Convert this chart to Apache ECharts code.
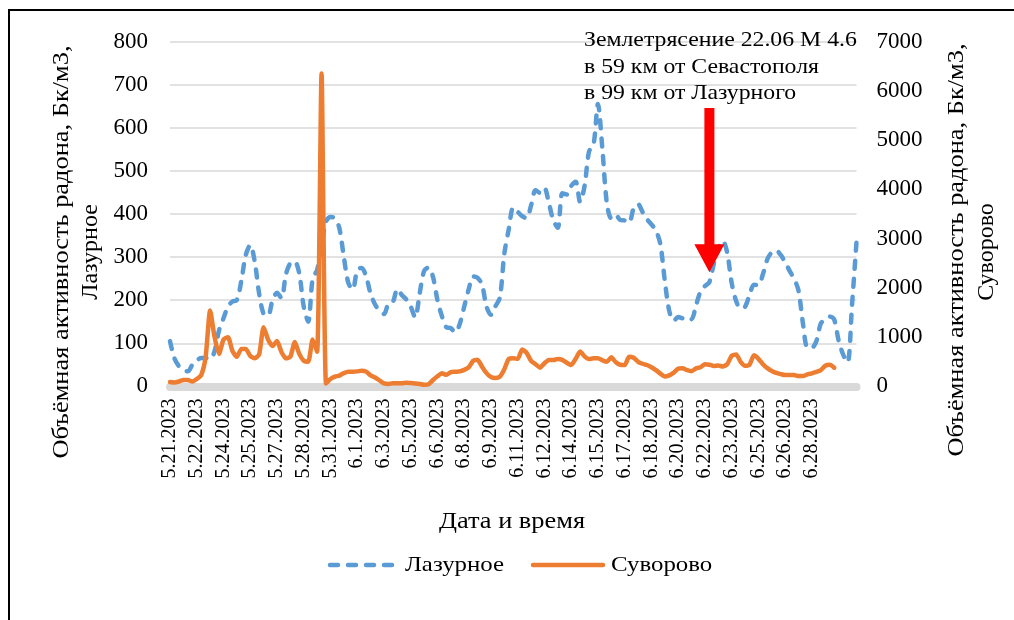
<!DOCTYPE html>
<html>
<head>
<meta charset="utf-8">
<script src="https://cdn.jsdelivr.net/npm/echarts@6/dist/echarts.min.js"></script>
<style>
  html, body { margin: 0; padding: 0; background: #ffffff; }
  #chart { width: 1014px; height: 620px; }
</style>
</head>
<body>
<div id="chart"></div>
<script>
// Dates shown on the category axis (one every 6 readings)
const tickDates = [
  '5.21.2023', '5.22.2023', '5.24.2023', '5.25.2023', '5.27.2023', '5.28.2023',
  '5.31.2023', '6.1.2023', '6.3.2023', '6.5.2023', '6.6.2023', '6.8.2023',
  '6.9.2023', '6.11.2023', '6.12.2023', '6.14.2023', '6.15.2023', '6.17.2023',
  '6.18.2023', '6.20.2023', '6.22.2023', '6.23.2023', '6.25.2023', '6.26.2023',
  '6.28.2023', '6.29.2023'
];
const readingsPerTick = 6;
const lastLabelledIndex = 144;

// Radon volumetric activity, Lazurnoye (left axis, Bq/m3)
const lazurnoye = [
  105, 65, 47, 38, 35, 50, 60, 66, 66, 63,
  82, 130, 158, 185, 197, 200, 245, 305, 328, 290,
  215, 168, 165, 200, 217, 205, 260, 286, 289, 262,
  185, 150, 250, 270, 328, 382, 393, 390, 367, 300,
  240, 225, 270, 275, 255, 215, 190, 176, 168, 192,
  196, 226, 212, 202, 185, 160, 215, 268, 276, 254,
  200, 163, 137, 135, 125, 145, 185, 225, 255, 252,
  236, 185, 166, 186, 206, 308, 365, 415, 405, 395,
  390, 420, 455, 449, 460, 425, 385, 368, 448, 445,
  465, 475, 428, 465, 545, 560, 655, 550, 425, 390,
  398, 386, 385, 380, 413, 423, 405, 388, 376, 362,
  330, 245, 175, 152, 161, 158, 161, 156, 188, 220,
  233, 242, 285, 320, 338, 310, 240, 198, 181, 185,
  212, 236, 235, 260, 295, 311, 315, 305, 288, 268,
  250, 222, 145, 90, 90, 105, 146, 155, 162, 155,
  106, 74, 56, 190, 335
];

// Radon volumetric activity, Suvorovo (right axis, Bq/m3)
const suvorovo = [
  90, 80, 100, 130, 130, 100, 150, 230, 600, 1540,
  1000, 660, 950, 1000, 720, 600, 760, 760, 620, 570,
  650, 1200, 950, 820, 920, 700, 570, 603, 900, 660,
  520, 500, 950, 704, 6350, 60, 150, 197, 220, 270,
  298, 298, 305, 319, 300, 225, 180, 120, 60, 50,
  63, 63, 65, 75, 68, 60, 50, 35, 45, 130,
  205, 266, 235, 290, 298, 305, 335, 385, 520, 540,
  400, 270, 190, 170, 200, 350, 560, 570, 560, 750,
  680, 520, 450, 380, 470, 536, 536, 555, 540, 480,
  434, 560, 710, 610, 555, 570, 570, 530, 501, 590,
  490, 440, 434, 600, 580, 500, 460, 434, 390, 330,
  260, 200, 225, 280, 360, 367, 330, 310, 367, 390,
  450, 440, 415, 425, 405, 450, 620, 650, 500, 420,
  440, 630, 560, 450, 370, 315, 275, 250, 231, 231,
  231, 210, 210, 245, 266, 295, 330, 420, 440, 380,
  null, null, null, null, null
];

// Series names and axis titles
const seriesNames = ['Лазурное', 'Суворово'];
const leftTitle = ['Объёмная активность радона, Бк/м3,', 'Лазурное'];
const rightTitle = ['Объёмная активность радона, Бк/м3,', 'Суворово'];
const xTitle = 'Дата и время';
const quakeNote = ['Землетрясение 22.06 М 4.6', 'в 59 км от Севастополя', 'в 99 км от Лазурного'];

// Earthquake marker: reading index and the left-axis span of the arrow
const quakeIndex = 121;
const quakeArrowTop = 646;
const quakeArrowTip = 265;

const categories = lazurnoye.map((_, i) => {
  const day = tickDates[Math.floor(i / readingsPerTick)];
  const hour = (i % readingsPerTick) * 4;
  return day + ' ' + String(hour).padStart(2, '0') + ':00';
});

const serif = '"Liberation Serif", "DejaVu Serif", serif';
const BLUE = '#5b9bd5';
const ORANGE = '#ed7d31';
const GRID_GRAY = '#d9d9d9';
const BLUE_DASH = [8, 10];

const chart = echarts.init(document.getElementById('chart'), null, { renderer: 'canvas' });

const option = {
  backgroundColor: '#ffffff',
  animation: false,
  grid: { left: 170, right: 157.5, top: 41.6, bottom: 233.6, containLabel: false },
  xAxis: {
    type: 'category',
    data: categories,
    boundaryGap: false,
    offset: 4,
    axisLine: { show: true, lineStyle: { color: GRID_GRAY, width: 8 } },
    axisTick: { show: false },
    axisLabel: {
      interval: (index) => index % readingsPerTick === 0 && index <= lastLabelledIndex,
      formatter: (value) => value.split(' ')[0],
      rotate: 90,
      margin: 8,
      fontFamily: serif,
      fontSize: 20,
      color: '#000'
    }
  },
  yAxis: [
    {
      type: 'value',
      min: 0, max: 800, interval: 100,
      axisLine: { show: false },
      axisTick: { show: false },
      splitLine: { lineStyle: { color: GRID_GRAY, width: 1.5 } },
      axisLabel: { margin: 22, fontFamily: serif, fontSize: 23, color: '#000' }
    },
    {
      type: 'value',
      min: 0, max: 7000, interval: 1000,
      position: 'right',
      axisLine: { show: false },
      axisTick: { show: false },
      splitLine: { show: false },
      axisLabel: { margin: 20, fontFamily: serif, fontSize: 23, color: '#000', formatter: (v) => String(v) }
    }
  ],
  series: [
    {
      name: seriesNames[0],
      type: 'line',
      yAxisIndex: 0,
      data: lazurnoye,
      showSymbol: false,
      symbol: 'none',
      smooth: 0.3,
      lineStyle: { color: BLUE, width: 4.5, type: BLUE_DASH, cap: 'round', join: 'round' },
      itemStyle: { color: BLUE },
      z: 2
    },
    {
      name: seriesNames[1],
      type: 'line',
      yAxisIndex: 1,
      data: suvorovo,
      showSymbol: false,
      symbol: 'none',
      smooth: 0.2,
      lineStyle: { color: ORANGE, width: 4.5, cap: 'round', join: 'round' },
      itemStyle: { color: ORANGE },
      z: 3
    }
  ]
};

chart.setOption(option);

// Axis titles, legend, earthquake note, arrow and the outer frame
function drawOverlay() {
  const top = chart.convertToPixel({ xAxisIndex: 0, yAxisIndex: 0 }, [quakeIndex, quakeArrowTop]);
  const tip = chart.convertToPixel({ xAxisIndex: 0, yAxisIndex: 0 }, [quakeIndex, quakeArrowTip]);
  const headLen = 28, headHalf = 15, shaftHalf = 5;
  const ax = tip[0];

  const vText = (text, x, y, size, stretch) => ({
    type: 'text', x, y, rotation: Math.PI / 2, scaleX: stretch, silent: true,
    style: { text, align: 'center', verticalAlign: 'middle', fontFamily: serif, fontSize: size, fill: '#000' }
  });
  const hText = (text, x, y, size, stretch, align) => ({
    type: 'text', x, y, scaleX: stretch, silent: true,
    style: { text, align: align || 'left', verticalAlign: 'middle', fontFamily: serif, fontSize: size, fill: '#000' }
  });
  const legendY = 565;

  chart.setOption({
    graphic: [
      {
        type: 'rect', silent: true,
        shape: { x: 9, y: 10, width: 1030, height: 640 },
        style: { fill: null, stroke: '#000', lineWidth: 2 }
      },
      vText(leftTitle[0], 62, 252, 24, 1.1),
      vText(leftTitle[1], 91, 252, 24, 1),
      vText(rightTitle[0], 957, 250, 24, 1.1),
      vText(rightTitle[1], 987, 252, 24, 1),
      hText(xTitle, 512, 522, 24, 1.1, 'center'),
      {
        type: 'line', silent: true,
        shape: { x1: 330, y1: legendY, x2: 398, y2: legendY },
        style: { stroke: BLUE, lineWidth: 4.5, lineDash: BLUE_DASH, lineCap: 'round' }
      },
      hText(seriesNames[0], 405, legendY, 22, 1.13),
      {
        type: 'line', silent: true,
        shape: { x1: 533, y1: legendY, x2: 603, y2: legendY },
        style: { stroke: ORANGE, lineWidth: 4.5, lineCap: 'round' }
      },
      hText(seriesNames[1], 611, legendY, 22, 1.13),
      {
        type: 'text', x: 584, y: 27, scaleX: 1.08, silent: true,
        style: {
          text: quakeNote.join('\n'),
          fontFamily: serif, fontSize: 22, lineHeight: 26.5, fill: '#000'
        }
      },
      {
        type: 'polygon', silent: true, z: 10,
        shape: {
          points: [
            [ax - shaftHalf, top[1]], [ax + shaftHalf, top[1]],
            [ax + shaftHalf, tip[1] - headLen], [ax + headHalf, tip[1] - headLen],
            [ax, tip[1]],
            [ax - headHalf, tip[1] - headLen], [ax - shaftHalf, tip[1] - headLen]
          ]
        },
        style: { fill: '#ff0000' }
      }
    ]
  });
}
drawOverlay();
</script>
</body>
</html>
